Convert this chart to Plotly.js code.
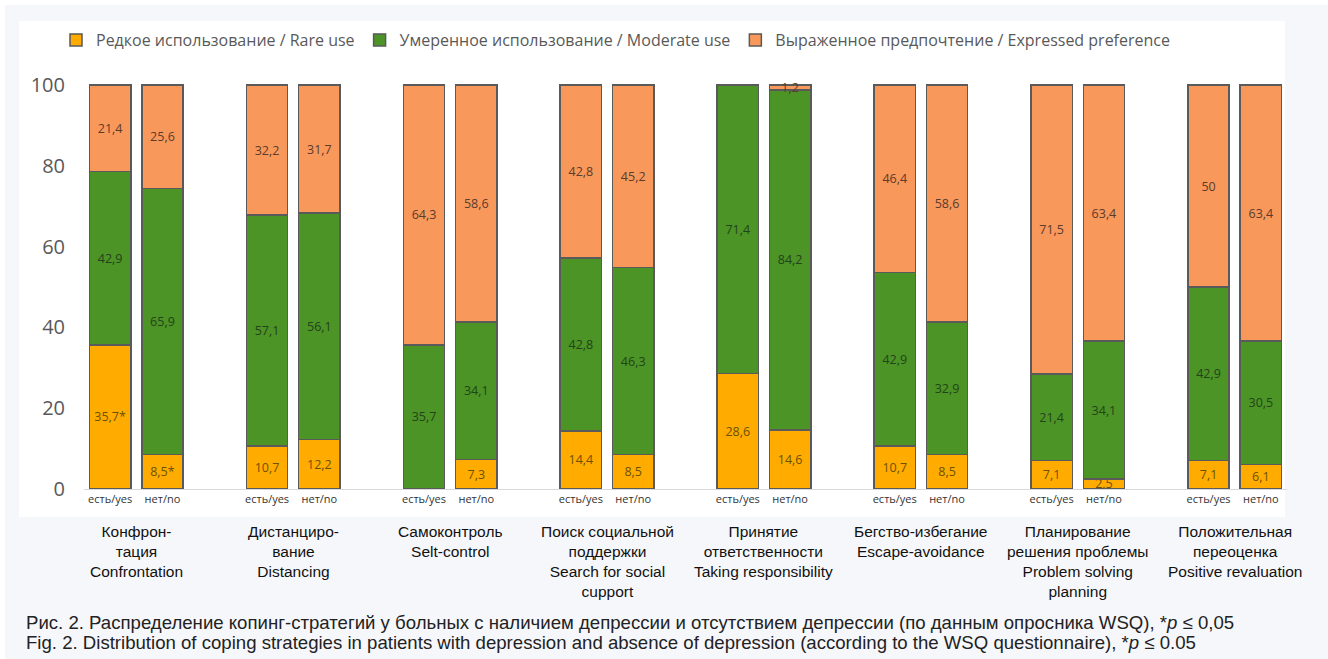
<!DOCTYPE html>
<html>
<head>
<meta charset="utf-8">
<script src="https://cdn.plot.ly/plotly-3.0.1.min.js"></script>
<style>html,body{margin:0;padding:0;background:#fff;}#chart{width:1328px;height:659px;}</style>
</head>
<body>
<div id="chart"></div>
<script>
// ---- data ----
const groupLabels = [
  "Конфрон-<br>тация<br>Confrontation",
  "Дистанциро-<br>вание<br>Distancing",
  "Самоконтроль<br>Selt-control",
  "Поиск социальной<br>поддержки<br>Search for social<br>cupport",
  "Принятие<br>ответственности<br>Taking responsibility",
  "Бегство-избегание<br>Escape-avoidance",
  "Планирование<br>решения проблемы<br>Problem solving<br>planning",
  "Положительная<br>переоценка<br>Positive revaluation"
];
const subgroupLabels = ["есть/yes", "нет/no"];
const seriesNames = [
  "Редкое использование / Rare use",
  "Умеренное использование / Moderate use",
  "Выраженное предпочтение / Expressed preference"
];
// bar order: group1 yes, group1 no, group2 yes, group2 no, ...
const rareUse       = [35.7, 8.5, 10.7, 12.2, 0, 7.3, 14.4, 8.5, 28.6, 14.6, 10.7, 8.5, 7.1, 2.5, 7.1, 6.1];
const moderateUse   = [42.9, 65.9, 57.1, 56.1, 35.7, 34.1, 42.8, 46.3, 71.4, 84.2, 42.9, 32.9, 21.4, 34.1, 42.9, 30.5];
const expressedPref = [21.4, 25.6, 32.2, 31.7, 64.3, 58.6, 42.8, 45.2, 0, 1.2, 46.4, 58.6, 71.5, 63.4, 50, 63.4];
const rareSignificant = [true, true, false, false, false, false, false, false, false, false, false, false, false, false, false, false];
const yTicks = [0, 20, 40, 60, 80, 100];
const captionLines = [
  "Рис. 2. Распределение копинг-стратегий у больных с наличием депрессии и отсутствием депрессии (по данным опросника WSQ), *<i>p</i> ≤ 0,05",
  "Fig. 2. Distribution of coping strategies in patients with depression and absence of depression (according to the WSQ questionnaire), *<i>p</i> ≤ 0.05"
];

// ---- build ----
const nBars = rareUse.length;
const barX = [];
const tickText = [];
for (let i = 0; i < nBars; i++) {
  barX.push(Math.floor(i / 2) * 3 + (i % 2));
  tickText.push(subgroupLabels[i % 2]);
}
const groupCenters = groupLabels.map((_, g) => g * 3 + 0.5);

function fmt(v, sig) {
  if (!v) return "";
  return String(v).replace(".", ",") + (sig ? "*" : "");
}

const colors = ["#FFAB00", "#4C9426", "#F9985B"];
const textColors = ["#6b5200", "#23431a", "#5a3b2c"];
const seriesVals = [rareUse, moderateUse, expressedPref];

const traces = seriesVals.map((vals, s) => ({
  type: "bar",
  name: seriesNames[s],
  x: barX,
  y: vals,
  width: 0.79,
  text: vals.map((v, i) => fmt(v, s === 0 && rareSignificant[i])),
  textposition: "inside",
  insidetextanchor: "middle",
  textangle: 0,
  constraintext: "none",
  cliponaxis: false,
  textfont: {family: "Open Sans, sans-serif", size: 12.5, color: textColors[s]},
  marker: {color: colors[s], line: {color: "#5a5a5a", width: 1.5}},
  hoverinfo: "skip"
}));

// layout geometry (pixels)
const W = 1328, H = 659;
const mL = 84, mR = 41, mT = 82, mB = 170;
const pw = W - mL - mR, ph = H - mT - mB;
const px = x => (x - mL) / pw;
const py = y => (H - mB - y) / ph;

const annotations = groupLabels.map((t, g) => ({
  xref: "x", yref: "paper",
  x: groupCenters[g], y: py(521),
  xanchor: "center", yanchor: "top",
  text: t, showarrow: false, align: "center",
  font: {family: "'Liberation Sans', Arial, sans-serif", size: 15.5, color: "#111"}
}));
captionLines.forEach((line, k) => {
  annotations.push({
    xref: "paper", yref: "paper",
    x: px(24), y: py(622 + 20 * k),
    xanchor: "left", yanchor: "middle",
    text: line, showarrow: false, align: "left",
    font: {family: "'Liberation Sans', Arial, sans-serif", size: 18.6, color: "#222"}
  });
});

const layout = {
  width: W, height: H,
  margin: {l: mL, r: mR, t: mT, b: mB, pad: 0},
  paper_bgcolor: "#ffffff",
  plot_bgcolor: "rgba(0,0,0,0)",
  barmode: "stack",
  showlegend: true,
  legend: {
    orientation: "h", traceorder: "normal",
    xref: "container", yref: "container",
    x: 56 / W, y: 1 - 40 / H, xanchor: "left", yanchor: "middle",
    font: {family: "Open Sans, sans-serif", size: 16, color: "#595959"},
    bgcolor: "rgba(0,0,0,0)"
  },
  xaxis: {
    range: [-0.5, barX[nBars - 1] + 0.5],
    tickmode: "array", tickvals: barX, ticktext: tickText,
    tickfont: {family: "Open Sans, sans-serif", size: 11, color: "#333"},
    showgrid: false, zeroline: false,
    showline: true, linecolor: "#d9d9d9", linewidth: 1,
    ticks: "", fixedrange: true
  },
  yaxis: {
    range: [0, 100.75],
    tickmode: "array", tickvals: yTicks,
    tickfont: {family: "Open Sans, sans-serif", size: 20, color: "#595959"},
    showgrid: false, zeroline: false, showline: false,
    ticks: "", ticklabelstandoff: 18, fixedrange: true
  },
  shapes: [
    {type: "rect", xref: "paper", yref: "paper", layer: "below",
     x0: px(5), x1: px(1328), y0: py(659), y1: py(5),
     fillcolor: "#f6f7fb", line: {width: 0}},
    {type: "rect", xref: "paper", yref: "paper", layer: "below",
     x0: px(19), x1: px(1285), y0: py(517), y1: py(21),
     fillcolor: "#ffffff", line: {width: 0}}
  ],
  annotations: annotations,
  uniformtext: {mode: "show", minsize: 12.5}
};

Plotly.newPlot("chart", traces, layout, {displayModeBar: false, staticPlot: true});
</script>
</body>
</html>
